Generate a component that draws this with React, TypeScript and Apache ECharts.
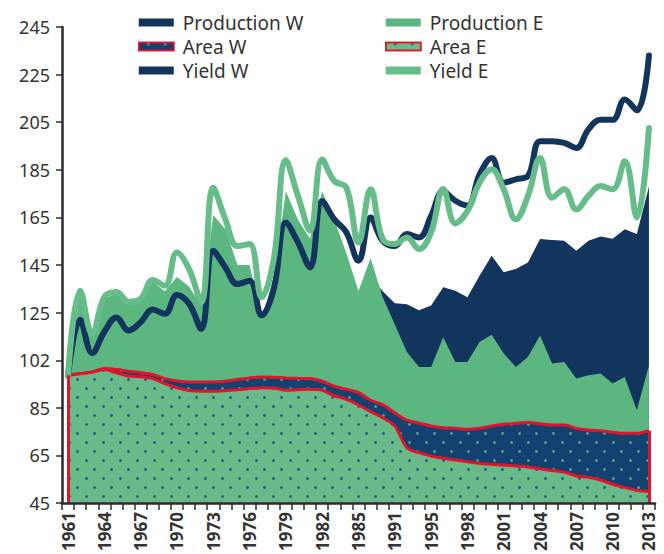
import React, { useEffect, useRef } from 'react';
import * as echarts from 'echarts';

const years = [
  '1961', '1962', '1963', '1964', '1965', '1966', '1967', '1968', '1969', '1970',
  '1971', '1972', '1973', '1974', '1975', '1976', '1977', '1978', '1979', '1980',
  '1981', '1982', '1983', '1984', '1985', '1987', '1989', '1991', '1993', '1994',
  '1995', '1996', '1997', '1998', '1999', '2000', '2001', '2002', '2003', '2004',
  '2005', '2006', '2007', '2008', '2009', '2010', '2011', '2012', '2013',
];

const yTickLabels = ['45', '65', '85', '102', '125', '145', '165', '185', '205', '225', '245'];

const productionW = [
  98.5, 120, 108, 118, 122, 118, 121, 126, 124, 130,
  128, 118, 150, 144, 137, 138, 120, 132, 160, 152,
  144, 168, 160, 148, 130, 140, 134, 129, 128.5, 126,
  128, 135.7, 134.2, 131.5, 140.5, 148.9, 142, 143.3, 146.1, 155.9,
  155.5, 155.2, 151, 155.2, 157, 156, 160, 158, 178,
];

const productionE = [
  98.5, 134, 115, 131, 133, 129, 130, 138, 134, 140,
  136, 128, 166, 160, 145, 145, 122, 140, 176, 164,
  156, 176, 164, 150, 134, 148, 131.5, 120, 108.5, 102.2,
  102.2, 114.7, 104.3, 104.3, 112.7, 115.7, 107.8, 102.2, 106.4, 115.4,
  103.6, 104.3, 97.3, 98.7, 99.4, 95.2, 98, 84, 102.9,
];

const areaW = [
  98.7, 99.4, 100.1, 101.5, 101.1, 100.4, 99.8, 99, 97.3, 96.3,
  95.9, 95.9, 95.9, 96.2, 96.9, 97.6, 98, 97.9, 97.6, 97.4,
  97.3, 96.2, 94.1, 92.8, 91.5, 88.2, 86.4, 82.9, 79.9, 78.6,
  77.4, 76.7, 76.4, 76, 76.4, 77.4, 78.1, 78.5, 78.9, 78.3,
  77.8, 77.8, 76.4, 75.7, 75.4, 74.7, 74.3, 74.3, 75.4,
];

const areaE = [
  98.7, 99.3, 100.1, 101.1, 99.7, 98.4, 98.1, 97.3, 95.2, 93.4,
  92.3, 92, 92, 92.2, 92.6, 93.1, 93.5, 93.4, 92.4, 92.6,
  92.8, 92.4, 90.1, 88.6, 86.3, 83.4, 80.9, 77.4, 68.3, 66.2,
  64.8, 63.8, 63.1, 62.4, 61.7, 61.3, 61, 60.6, 60.2, 59.4,
  58.7, 58, 56.4, 55.8, 54.7, 52.9, 51.6, 50.3, 49.9,
];

const yieldW = [
  98.5, 122, 108, 117, 123, 117.5, 121, 126.3, 124.5, 132.4,
  128.7, 118.2, 151, 144, 137, 138.4, 123.8, 135, 162.9, 154.5,
  144, 171.9, 164.2, 158.7, 146.8, 165, 155.2, 153, 158, 156.6,
  165.6, 176, 172, 170, 183, 190, 179.6, 181, 182.4, 197,
  197, 196.3, 194.2, 202, 206, 206, 214.5, 210, 233,
];

const yieldE = [
  98.5, 134.2, 116, 131.6, 133.7, 129.6, 130.8, 138.7, 136.3, 150.3,
  143.3, 129.4, 177.5, 164.2, 153, 153.8, 131.5, 147.5, 189, 174,
  159.4, 189.3, 180.3, 177.5, 154.5, 176.8, 155.9, 153.8, 156.6, 151.7,
  158.7, 177, 162.5, 167.7, 179.6, 185.2, 176.8, 164.2, 174, 190,
  173.3, 176.8, 168.4, 174, 178.2, 176.8, 188.6, 165, 202.6,
];

const NAVY = '#12355e';
const NAVY_AREA = '#144270';
const GREEN = '#5cb680';
const GREEN_AREA = '#69ba89';
const GREEN_LINE = '#67bd8a';
const RED = '#e3132c';
const AXIS = '#2b2b2b';
const TEXT = '#333333';

const dotsW = {
  symbol: 'circle',
  symbolSize: 1,
  color: '#4f9c88',
  dashArrayX: [[2.4, 13.6], [0, 8, 2.4, 5.6]],
  dashArrayY: [2.4, 5.6],
};
const dotsE = {
  symbol: 'circle',
  symbolSize: 1,
  color: '#2d5f86',
  dashArrayX: [[2.4, 13.6], [0, 8, 2.4, 5.6]],
  dashArrayY: [2.4, 5.6],
};

function buildOption() {
  const last = years.length - 1;
  const legendCommon = {
    orient: 'vertical',
    top: 8,
    itemWidth: 35,
    itemHeight: 8,
    itemGap: 5,
    icon: 'rect',
    selectedMode: false,
    textStyle: {
      fontSize: 19,
      lineHeight: 18,
      color: TEXT,
      fontFamily: 'Noto Sans',
      padding: [0, 0, 0, 4],
    },
  };
  return {
    animation: false,
    textStyle: { fontFamily: 'Noto Sans' },
    legend: [
      {
        ...legendCommon,
        left: 133,
        data: [
          { name: 'Production W', itemStyle: { color: NAVY, borderWidth: 0 } },
          { name: 'Area W', itemStyle: { color: NAVY_AREA, borderColor: RED, borderWidth: 1.5 } },
          { name: 'Yield W', itemStyle: { color: NAVY, borderWidth: 0 } },
        ],
      },
      {
        ...legendCommon,
        left: 380,
        data: [
          { name: 'Production E', itemStyle: { color: GREEN, borderWidth: 0 } },
          { name: 'Area E', itemStyle: { color: GREEN_AREA, borderColor: RED, borderWidth: 1.5 } },
          { name: 'Yield E', itemStyle: { color: GREEN_LINE, borderWidth: 0 } },
        ],
      },
    ],
    grid: { left: 62, right: 9, top: 27, bottom: 49 },
    xAxis: {
      type: 'category',
      data: years,
      boundaryGap: true,
      z: 10,
      axisLine: { lineStyle: { color: AXIS, width: 2.5 } },
      axisTick: { show: true, interval: 0, length: 7, lineStyle: { color: AXIS, width: 1.5 } },
      axisLabel: {
        interval: 2,
        rotate: 90,
        fontSize: 17,
        fontWeight: 'bold',
        color: TEXT,
        margin: 9,
      },
    },
    yAxis: {
      type: 'value',
      min: 45,
      max: 245,
      interval: 20,
      z: 10,
      splitLine: { show: false },
      axisLine: { show: true, lineStyle: { color: AXIS, width: 2.5 } },
      axisTick: { show: true, length: 6, lineStyle: { color: AXIS, width: 1.5 } },
      axisLabel: {
        fontSize: 18,
        color: TEXT,
        margin: 12,
        formatter: (v: number) => yTickLabels[Math.round((v - 45) / 20)] ?? '',
      },
    },
    series: [
      {
        name: 'Production W',
        type: 'line',
        data: productionW,
        symbol: 'none',
        itemStyle: { color: NAVY },
        lineStyle: { width: 0, color: NAVY },
        areaStyle: { color: NAVY, opacity: 1, origin: 'start' },
      },
      {
        name: 'Production E',
        type: 'line',
        data: productionE,
        symbol: 'none',
        itemStyle: { color: GREEN },
        lineStyle: { width: 0, color: GREEN },
        areaStyle: { color: GREEN, opacity: 1, origin: 'start' },
      },
      {
        name: 'Area W',
        type: 'line',
        data: areaW,
        symbol: 'none',
        smooth: 0.3,
        itemStyle: { color: NAVY_AREA, decal: dotsW },
        lineStyle: { width: 3, color: RED, decal: dotsW },
        areaStyle: { color: NAVY_AREA, opacity: 1, origin: 'start' },
        markLine: {
          silent: true,
          symbol: ['none', 'none'],
          label: { show: false },
          lineStyle: { color: RED, width: 3, type: 'solid' },
          data: [
            [{ coord: [years[0], 45] }, { coord: [years[0], areaW[0]] }],
            [{ coord: [years[last], 45] }, { coord: [years[last], areaW[last]] }],
          ],
        },
      },
      {
        name: 'Area E',
        type: 'line',
        data: areaE,
        symbol: 'none',
        smooth: 0.3,
        itemStyle: { color: GREEN_AREA, decal: dotsE },
        lineStyle: { width: 3, color: RED, decal: dotsE },
        areaStyle: { color: GREEN_AREA, opacity: 1, origin: 'start' },
      },
      {
        name: 'Yield W',
        type: 'line',
        data: yieldW,
        symbol: 'none',
        smooth: 0.4,
        itemStyle: { color: NAVY },
        lineStyle: { width: 6, color: NAVY, cap: 'round', join: 'round' },
      },
      {
        name: 'Yield E',
        type: 'line',
        data: yieldE,
        symbol: 'none',
        smooth: 0.4,
        itemStyle: { color: GREEN_LINE },
        lineStyle: { width: 6, color: GREEN_LINE, cap: 'round', join: 'round' },
      },
    ],
  };
}

export default function App() {
  const ref = useRef<HTMLDivElement>(null);
  useEffect(() => {
    if (!ref.current) return;
    const chart = echarts.init(ref.current, null, { renderer: 'svg' });
    chart.setOption(buildOption() as any);
    return () => chart.dispose();
  }, []);
  return (
    <div
      ref={ref}
      style={{ position: 'fixed', left: 0, top: 0, width: 664, height: 554, background: '#ffffff' }}
    />
  );
}
